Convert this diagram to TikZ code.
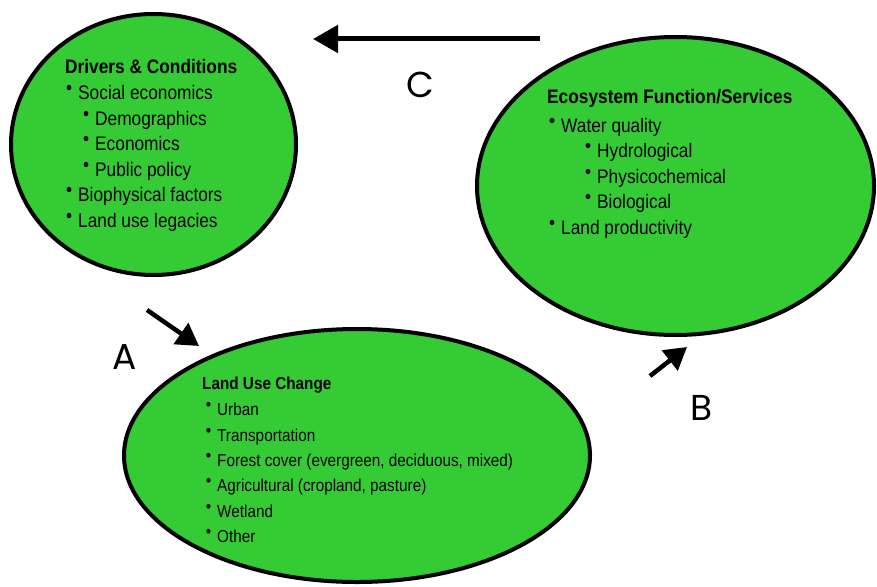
\documentclass[tikz,border=0pt]{standalone}
\usepackage{fontspec}
\setmainfont{Liberation Sans}
\newfontfamily\letterfont{Poppins}
\usetikzlibrary{shapes.geometric,arrows.meta}
\definecolor{leafgreen}{RGB}{52,203,52}
\newcommand{\bul}{\llap{\raisebox{0.24em}{•}\hspace{6pt}}}
\newcommand{\tall}[1]{\scalebox{1}[1.13]{#1}}
\begin{document}
\begin{tikzpicture}[x=1pt,y=-1pt,
    blob/.style={ellipse,draw,line width=4pt,fill=leafgreen,inner sep=0pt},
    head/.style={anchor=base west,inner sep=0pt,font=\fontsize{17.3}{20}\selectfont\bfseries},
    item/.style={anchor=base west,inner sep=0pt,font=\fontsize{17.3}{20}\selectfont},
    smallhead/.style={head,font=\fontsize{15.3}{18}\selectfont\bfseries},
    smallitem/.style={item,font=\fontsize{15.3}{18}\selectfont},
    longarrow/.style={line width=5pt,-{Triangle[length=25pt,width=27pt]}},
    shortarrow/.style={line width=4.5pt,-{Triangle[length=22pt,width=25pt]}},
    letter/.style={inner sep=0pt,font=\letterfont\fontsize{36}{36}\selectfont}]
      \fill[white] (0,0) rectangle (877,586);
      \useasboundingbox (0,0) rectangle (877,586);
      \begin{scope}
        \node[blob,minimum width=285pt,minimum height=261pt] (drivers)   at (153.5,144.5) {};
        \node[blob,minimum width=397pt,minimum height=298pt] (ecosystem) at (675.5,186)   {};
        \node[blob,minimum width=466pt,minimum height=253pt] (landuse)   at (357,455.5)   {};
      \end{scope}
      % drivers
      \node[head] (drivers title)  at (65,74)    {\tall{Drivers \& Conditions}};
      \node[item] (drivers social) at (78,99.5)  {\tall{\bul Social economics}};
      \node[item] (drivers demo)   at (95,125)   {\tall{\bul Demographics}};
      \node[item] (drivers econ)   at (95,150.5) {\tall{\bul Economics}};
      \node[item] (drivers policy) at (95,176)   {\tall{\bul Public policy}};
      \node[item] (drivers bio)    at (78,201.5) {\tall{\bul Biophysical factors}};
      \node[item] (drivers legacy) at (78,227)   {\tall{\bul Land use legacies}};
      % ecosystem
      \node[head] (eco title)  at (547,103) {\tall{Ecosystem Function/Services}};
      \node[item] (eco water)  at (561,132) {\tall{\bul Water quality}};
      \node[item] (eco hydro)  at (597,157) {\tall{\bul Hydrological}};
      \node[item] (eco chem)   at (597,183) {\tall{\bul Physicochemical}};
      \node[item] (eco bio)    at (597,208) {\tall{\bul Biological}};
      \node[item] (eco land)   at (561,234) {\tall{\bul Land productivity}};
      % land use
      \node[smallhead] (lu title)  at (202,389) {\tall{Land Use Change}};
      \node[smallitem] (lu urban)  at (217,415) {\tall{\bul Urban}};
      \node[smallitem] (lu trans)  at (217,441) {\tall{\bul Transportation}};
      \node[smallitem] (lu forest) at (217,466) {\tall{\bul Forest cover (evergreen, deciduous, mixed)}};
      \node[smallitem] (lu agri)   at (217,491) {\tall{\bul Agricultural (cropland, pasture)}};
      \node[smallitem] (lu wet)    at (217,517) {\tall{\bul Wetland}};
      \node[smallitem] (lu other)  at (217,542) {\tall{\bul Other}};
      % arrows
      \coordinate (c tail) at (540,39);
      \coordinate (c tip)  at (313,39);
      \coordinate (a tail) at (147,310);
      \coordinate (a tip)  at (199,346);
      \coordinate (b tail) at (650,376);
      \coordinate (b tip)  at (687,347);
      \draw[longarrow]  (c tail) -- (c tip);
      \draw[shortarrow] (a tail) -- (a tip);
      \draw[shortarrow] (b tail) -- (b tip);
      \node[letter] (label c) at (420,85)  {C};
      \node[letter] (label a) at (125,357) {A};
      \node[letter] (label b) at (702,408) {B};
    \end{tikzpicture}
\end{document}
